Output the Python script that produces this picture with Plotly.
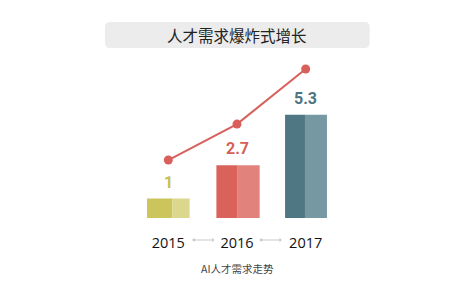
import plotly.graph_objects as go

years = ["2015", "2016", "2017"]
values = [1, 2.7, 5.3]
value_labels = ["1", "2.7", "5.3"]
title_text = "人才需求爆炸式增长"
caption_text = "AI人才需求走势"

front_colors = ["#cbc55c", "#d9625b", "#4e7683"]
side_colors = ["#dbd78d", "#e2827c", "#7598a2"]
label_colors = ["#c7c04f", "#d65f58", "#4d7480"]
line_color = "#d9605a"

fig = go.Figure()

# left (front) face of each box
fig.add_trace(go.Bar(
    x=years, y=values, marker=dict(color=front_colors, line=dict(width=0)),
    width=[0.37, 0.31, 0.29], offset=[-0.31, -0.30, -0.30],
    hoverinfo="skip", showlegend=False,
))
# right (side) face of each box
fig.add_trace(go.Bar(
    x=years, y=values, marker=dict(color=side_colors, line=dict(width=0)),
    width=[0.25, 0.32, 0.32], offset=[0.06, 0.01, -0.01],
    hoverinfo="skip", showlegend=False,
))
# trend line
fig.add_trace(go.Scatter(
    x=years, y=values, yaxis="y2", mode="lines+markers",
    line=dict(color=line_color, width=2),
    marker=dict(color=line_color, size=9),
    hoverinfo="skip", showlegend=False, cliponaxis=False,
))

annotations = []
for i, (v, lab, c) in enumerate(zip(values, value_labels, label_colors)):
    annotations.append(dict(
        x=i, y=v, xref="x", yref="y", text="<b>" + lab + "</b>",
        showarrow=False, yanchor="bottom", yshift=5,
        font=dict(family="Roboto, Liberation Sans, sans-serif", size=16, color=c),
    ))

# arrows between year labels
for a0, a1 in [(0.35, 0.67), (1.33, 1.65)]:
    annotations.append(dict(
        x=a1, y=-0.131, xref="x", yref="paper",
        ax=a0, ay=0, axref="x", ayref="pixel",
        showarrow=True, arrowside="end+start",
        arrowhead=1, startarrowhead=6, arrowsize=0.6, startarrowsize=0.6,
        arrowwidth=1.2, arrowcolor="#c9c9c9", text="",
    ))

# title text
annotations.append(dict(
    x=0.501, y=1.089, xref="paper", yref="paper", text=title_text,
    showarrow=False, xanchor="center", yanchor="middle",
    font=dict(family="Noto Sans CJK SC", size=15.5, color="#222222"),
))
# caption
annotations.append(dict(
    x=0.501, y=-0.298, xref="paper", yref="paper", text=caption_text,
    showarrow=False, xanchor="center", yanchor="middle",
    font=dict(family="Noto Sans CJK SC", size=10.5, color="#444444"),
))

# rounded title box in paper coords
x0, x1 = -0.141, 1.144
y0, y1 = 1.012, 1.167
rx, ry = 0.024, 0.03
path = (f"M {x0+rx},{y0} L {x1-rx},{y0} Q {x1},{y0} {x1},{y0+ry} "
        f"L {x1},{y1-ry} Q {x1},{y1} {x1-rx},{y1} L {x0+rx},{y1} "
        f"Q {x0},{y1} {x0},{y1-ry} L {x0},{y0+ry} Q {x0},{y0} {x0+rx},{y0} Z")

fig.update_layout(
    width=476, height=304,
    margin=dict(l=134, r=136, t=50, b=86),
    paper_bgcolor="white", plot_bgcolor="white",
    barmode="overlay",
    xaxis=dict(
        type="category", range=[-0.5, 2.5], showgrid=False, zeroline=False,
        showline=False, ticks="outside", ticklen=12, tickcolor="rgba(0,0,0,0)",
        tickfont=dict(family="Open Sans, sans-serif", size=14.5, color="#111111",
                      weight=500),
    ),
    yaxis=dict(range=[0, 8.615], visible=False, showgrid=False, zeroline=False),
    yaxis2=dict(range=[-1.74, 6.2], overlaying="y", visible=False,
                showgrid=False, zeroline=False),
    shapes=[dict(type="path", path=path, xref="paper", yref="paper",
                 fillcolor="#ececec", line=dict(width=0), layer="below")],
    annotations=annotations,
)

fig.write_html("out.html")
